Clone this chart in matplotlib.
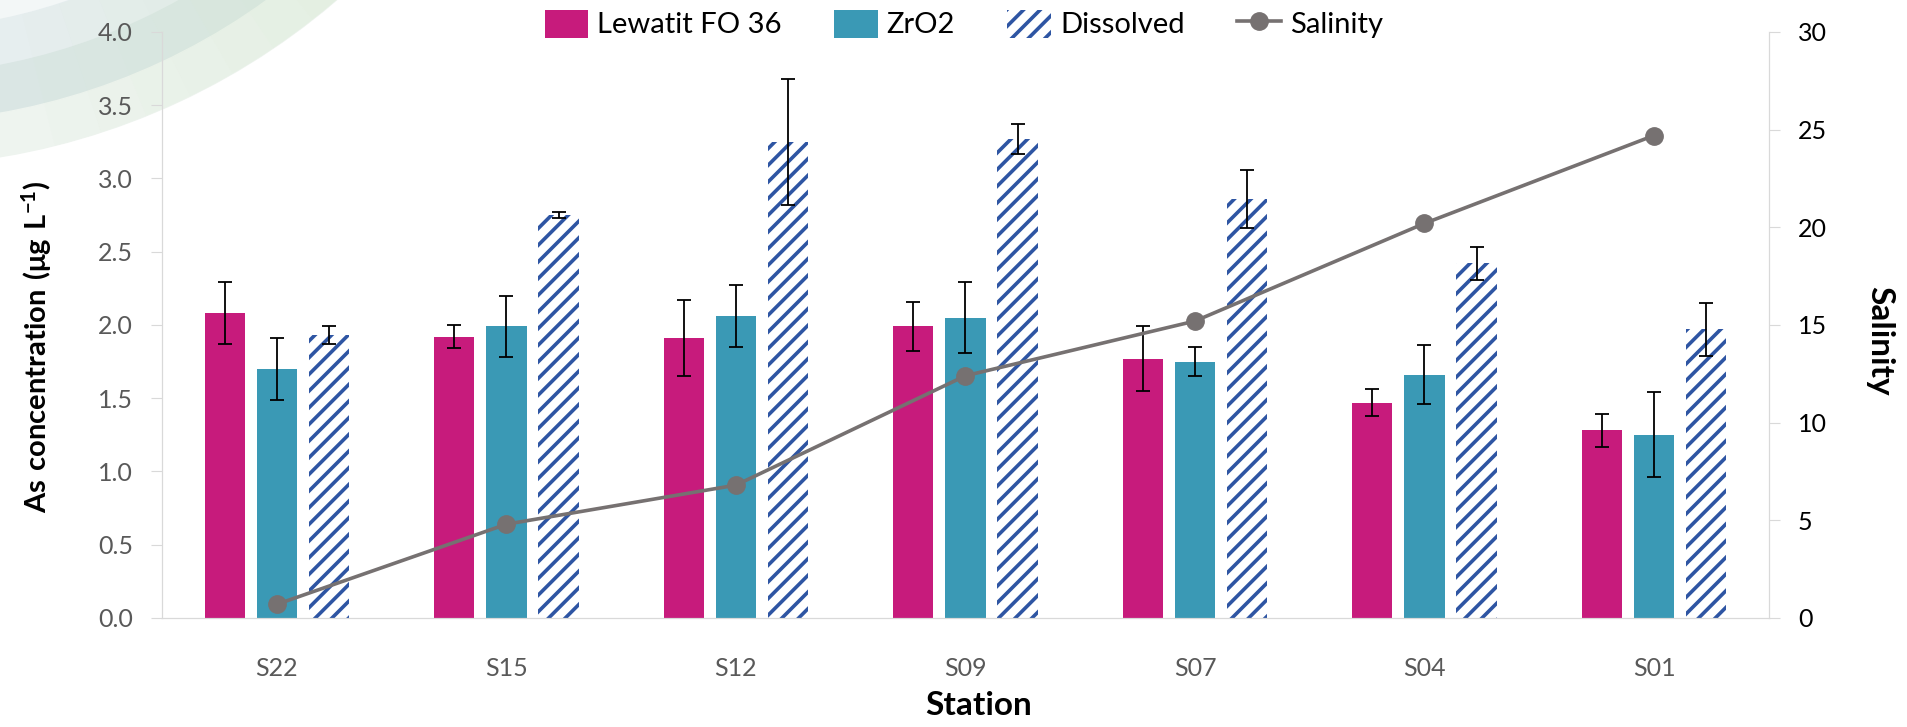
import numpy as np
import matplotlib
matplotlib.use('Agg')
import matplotlib.pyplot as plt
from matplotlib.patches import Wedge

stations = ['S22', 'S15', 'S12', 'S09', 'S07', 'S04', 'S01']

lewatit = [2.08, 1.92, 1.91, 1.99, 1.77, 1.47, 1.28]
lewatit_err = [0.21, 0.08, 0.26, 0.17, 0.22, 0.09, 0.11]

zro2 = [1.70, 1.99, 2.06, 2.05, 1.75, 1.66, 1.25]
zro2_err = [0.21, 0.21, 0.21, 0.24, 0.10, 0.20, 0.29]

dissolved = [1.93, 2.75, 3.25, 3.27, 2.86, 2.42, 1.97]
dissolved_err = [0.06, 0.02, 0.43, 0.10, 0.20, 0.11, 0.18]

salinity = [0.7, 4.8, 6.8, 12.4, 15.2, 20.2, 24.7]

plt.rcParams['font.family'] = ['Lato', 'DejaVu Sans']
plt.rcParams['mathtext.fontset'] = 'custom'
plt.rcParams['mathtext.rm'] = 'Lato:bold'
plt.rcParams['mathtext.bf'] = 'Lato:bold'
plt.rcParams['hatch.linewidth'] = 2.6

fig = plt.figure(figsize=(19.08, 7.27), dpi=100)

# faint logo arcs in the top-left corner
cx, cy = -1.12, 12.50
for r_in, r_out, col in [(5.00, 5.54, '#F3F7F7'), (5.54, 5.99, '#E6EEEF'),
                         (5.99, 6.46, '#DAE6E4'), (6.46, 6.89, '#EEF4EF')]:
    fig.patches.append(Wedge((cx, cy), r_out, -100, -30, width=r_out - r_in,
                             transform=fig.dpi_scale_trans, color=col, zorder=-5))
# green tint growing towards the right end of the arcs
for i, a in enumerate(np.arange(-80, -40, 4)):
    fig.patches.append(Wedge((cx, cy), 6.89, a, a + 4, width=1.35,
                             transform=fig.dpi_scale_trans, color='#D3E8CC',
                             alpha=0.05 * i, lw=0, zorder=-4))
fig.patches.append(Wedge((cx, cy), 6.89, -40, -30, width=1.35,
                         transform=fig.dpi_scale_trans, color='#D3E8CC',
                         alpha=0.5, lw=0, zorder=-4))

ax = fig.add_axes([0.085, 0.150, 0.842, 0.806])
ax.patch.set_alpha(0)

x = np.arange(len(stations))
w = 0.175
off = 0.227
ekw = dict(ecolor='black', elinewidth=1.3, capsize=5, capthick=1.3)

ax.bar(x - off, lewatit, w, yerr=lewatit_err, color='#C71B7C', error_kw=ekw, label='Lewatit FO 36')
ax.bar(x, zro2, w, yerr=zro2_err, color='#3A99B5', error_kw=ekw, label='ZrO2')
ax.bar(x + off, dissolved, w, yerr=dissolved_err, color='white', edgecolor='#2E55A3',
       linewidth=0, hatch='//', error_kw=ekw, label='Dissolved')

ax.set_xlim(-0.5, 6.5)
ax.set_ylim(0, 4)
ax.set_yticks(np.arange(0, 4.01, 0.5))
ax.set_yticklabels([f'{v:.1f}' for v in np.arange(0, 4.01, 0.5)])
ax.set_xticks(x, stations)

ax.tick_params(axis='y', length=8, color='#D9D9D9', labelcolor='#595959', labelsize=18, pad=13)
ax.tick_params(axis='x', length=0, labelcolor='#595959', labelsize=18, pad=28)
for s in ['left', 'bottom', 'right']:
    ax.spines[s].set_color('#D9D9D9')
ax.spines['top'].set_visible(False)

ax2 = ax.twinx()
ax2.plot(x, salinity, color='#767171', lw=2.6, marker='o', ms=12.5, label='Salinity')
ax2.set_ylim(0, 30)
ax2.set_yticks(np.arange(0, 31, 5))
ax2.tick_params(axis='y', length=8, color='#D9D9D9', labelcolor='black', labelsize=18, pad=13)
for s in ['left', 'bottom', 'right']:
    ax2.spines[s].set_color('#D9D9D9')
ax2.spines['top'].set_visible(False)

fig.text(0.0194, 0.523, r'$\mathbf{As\ concentration\ (μg\ L^{-1})}$', rotation=90,
         ha='center', va='center', fontsize=21)
fig.text(0.985, 0.531, 'Salinity', rotation=270, ha='center', va='center',
         fontsize=24, fontweight='bold')
fig.text(0.513, 0.029, 'Station', ha='center', va='center', fontsize=24, fontweight='bold')

h1, l1 = ax.get_legend_handles_labels()
h2, l2 = ax2.get_legend_handles_labels()
fig.legend(h1 + h2, l1 + l2, loc='center', bbox_to_anchor=(0.505, 0.967), ncol=4,
           frameon=False, fontsize=21, handlelength=1.5, handleheight=1.1,
           handletextpad=0.3, columnspacing=1.8)

fig.savefig('out.png', dpi=100)
